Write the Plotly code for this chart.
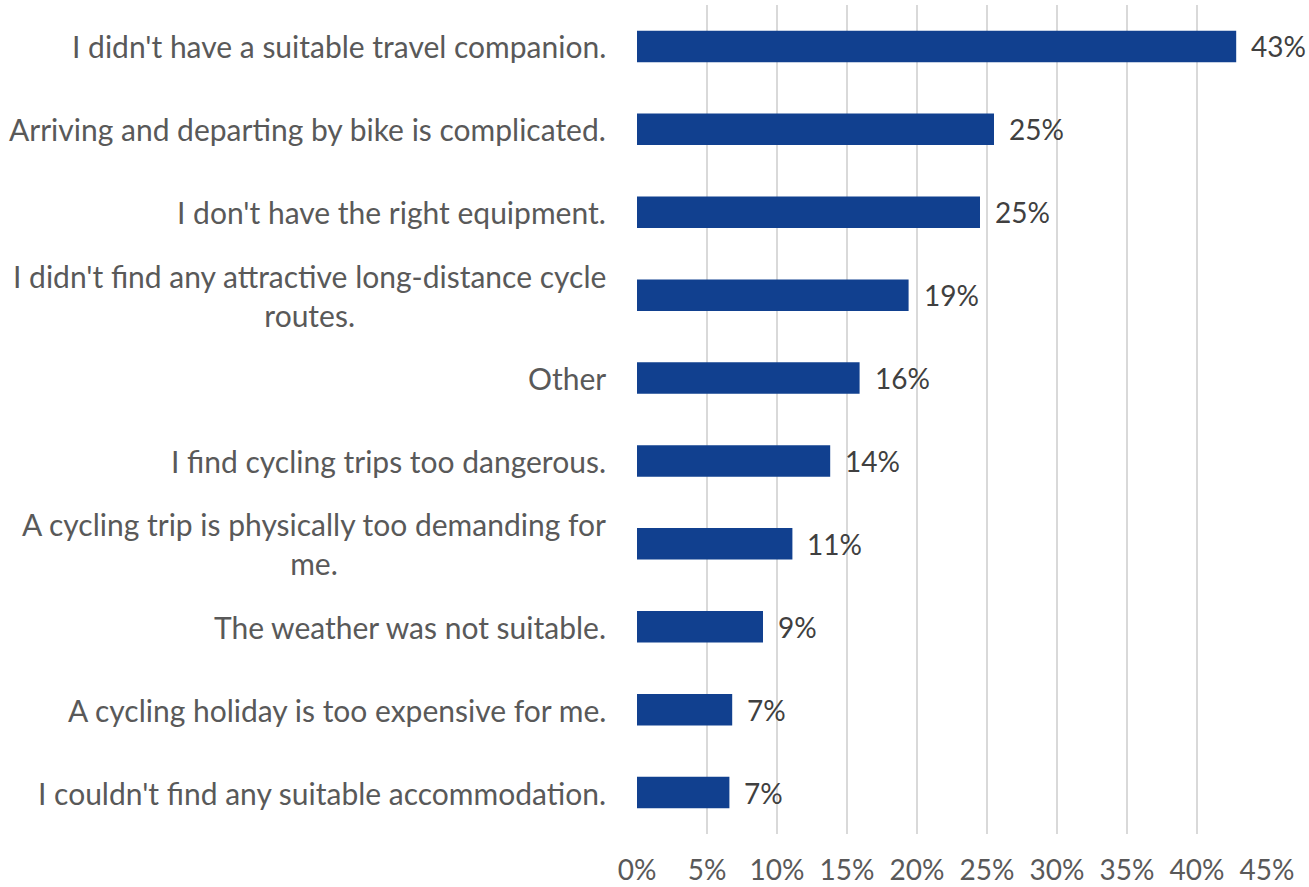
import plotly.graph_objects as go

# Reasons (top to bottom) and shares in %
reasons = [
    "I didn't have a suitable travel companion.",
    "Arriving and departing by bike is complicated.",
    "I don't have the right equipment.",
    "I didn't find any attractive long-distance cycle<br>routes.",
    "Other",
    "I find cycling trips too dangerous.",
    "A cycling trip is physically too demanding for<br>me.",
    "The weather was not suitable.",
    "A cycling holiday is too expensive for me.",
    "I couldn't find any suitable accommodation.",
]
shares = [42.8, 25.5, 24.5, 19.4, 15.9, 13.8, 11.1, 9.0, 6.8, 6.6]
share_labels = ["43%", "25%", "25%", "19%", "16%", "14%", "11%", "9%", "7%", "7%"]

x_ticks = [0, 5, 10, 15, 20, 25, 30, 35, 40, 45]
x_ticktext = ["0%", "5%", "10%", "15%", "20%", "25%", "30%", "35%", "40%", "45%"]

FONT = "Lato, Open Sans, sans-serif"
GREY = "#595959"

fig = go.Figure(go.Bar(
    x=shares, y=reasons, orientation="h",
    marker=dict(color="#11408F", line=dict(width=0)),
    hoverinfo="skip",
))

# category labels (centered multi-line, right-aligned to the axis)
for r in reasons:
    fig.add_annotation(
        x=0, xref="paper", y=r, yref="y", text=r,
        xanchor="right", yanchor="middle", align="center", xshift=-29,
        showarrow=False, font=dict(family=FONT, size=30, color=GREY),
    )

# value labels
for r, v, lab in zip(reasons, shares, share_labels):
    fig.add_annotation(
        x=v, y=r, text=lab, xanchor="left", yanchor="middle", xshift=13,
        showarrow=False, font=dict(family=FONT, size=28, color="#404040"),
    )

fig.update_xaxes(
    range=[0, 45], tickvals=x_ticks, ticktext=x_ticktext,
    showgrid=True, gridcolor="#d9d9d9", gridwidth=1.5,
    zeroline=False, showline=False, ticks="",
    tickfont=dict(family=FONT, size=28, color=GREY),
    ticklabelstandoff=17, automargin=False, fixedrange=True,
)
fig.update_yaxes(
    categoryorder="array", categoryarray=reasons, autorange="reversed",
    showticklabels=False, showgrid=False, zeroline=False, showline=False,
    ticks="", automargin=False, fixedrange=True,
)
fig.update_layout(
    width=1309, height=887,
    margin=dict(l=637, r=42, t=5, b=53),
    bargap=0.62,
    paper_bgcolor="#ffffff", plot_bgcolor="#ffffff",
    showlegend=False,
    font=dict(family=FONT, size=28, color=GREY),
)

fig.write_html("out.html", config={"displayModeBar": False},
               post_script="document.body.style.margin='0';")
